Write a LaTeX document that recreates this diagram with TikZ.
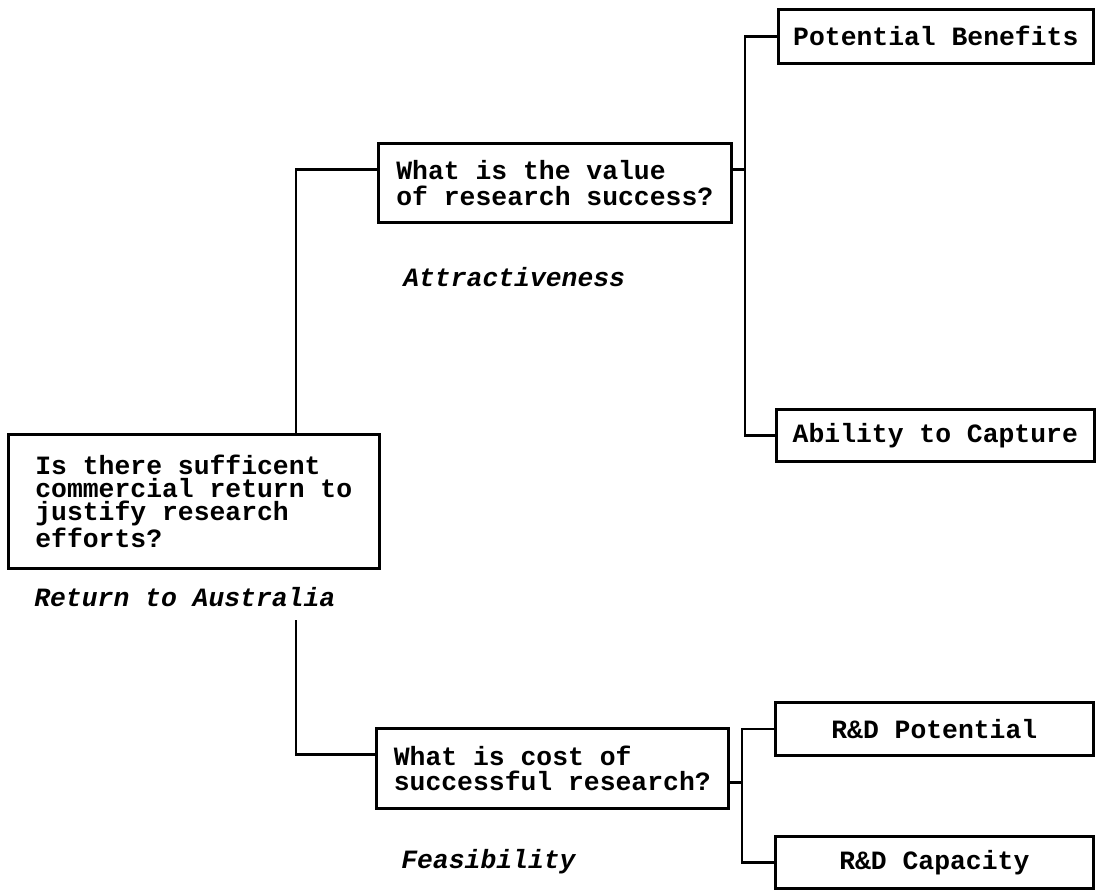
\documentclass[tikz,border=0pt]{standalone}
\usepackage{fontspec}
\setmonofont{Liberation Mono}
\usepackage{tikz}

\begin{document}
\begin{tikzpicture}[x=0.5pt,y=-0.5pt,line width=1.3pt,
  qbox/.style={draw,anchor=north west,align=left,inner sep=0pt,
    font=\ttfamily\bfseries\fontsize{13.2pt}{12.8pt}\selectfont},
  tag/.style={anchor=west,inner sep=0pt,
    font=\ttfamily\bfseries\itshape\fontsize{13.2pt}{13pt}\selectfont}]
\useasboundingbox (0,0) rectangle (1101,889);
% boxes
\node[qbox,minimum width=185.5pt,minimum height=67pt,
  font=\ttfamily\bfseries\fontsize{13.2pt}{11.7pt}\selectfont] (root) at (7,433)
  {Is there sufficent\\commercial return to\\justify research\\efforts?};
\node[tag] (ret) at (33,597) {Return to Australia};
\node[qbox,minimum width=176.5pt,minimum height=39.5pt] (value) at (377,142)
  {What is the value\\of research success?};
\node[tag] (attr) at (402,277) {Attractiveness};
\node[qbox,minimum width=176pt,minimum height=40pt] (cost) at (375,727)
  {What is cost of\\successful research?};
\node[tag] (feas) at (400,862) {Feasibility};
\node[qbox,minimum width=157.5pt,minimum height=27pt] (benefits) at (777,8)
  {Potential Benefits};
\node[qbox,minimum width=159pt,minimum height=26pt] (capture) at (775,408)
  {Ability to Capture};
\node[qbox,minimum width=159pt,minimum height=26.5pt] (rdpot) at (774,701)
  {R\&D Potential};
\node[qbox,minimum width=159pt,minimum height=26pt] (rdcap) at (774,835)
  {R\&D Capacity};
% connectors
\coordinate (spine) at (296,620);
\coordinate (bus1) at (745,0);
\coordinate (bus2) at (742,0);
\draw (root.north -| spine) |- ([yshift=6.75pt]value.west);
\draw (spine) |- ([yshift=7pt]cost.west);
\draw ([yshift=6.75pt]value.east) -- ([yshift=6.75pt]value.east -| bus1);
\draw (benefits.west) -| (bus1 |- capture.west) -- (capture.west);
\draw ([yshift=-7pt]cost.east) -- ([yshift=-7pt]cost.east -| bus2);
\draw (rdpot.west) -| (bus2 |- rdcap.west) -- (rdcap.west);
\end{tikzpicture}
\end{document}
